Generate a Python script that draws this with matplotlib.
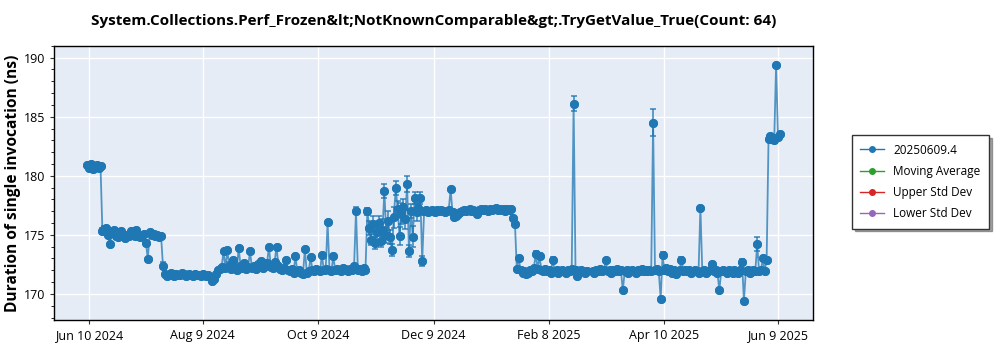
import numpy as np
import pandas as pd
import matplotlib
matplotlib.use("Agg")
import matplotlib.pyplot as plt
from matplotlib.ticker import AutoMinorLocator
from matplotlib.lines import Line2D

plt.rcParams['font.family'] = ['Open Sans', 'DejaVu Sans']

title = "System.Collections.Perf_Frozen&lt;NotKnownComparable&gt;.TryGetValue_True(Count: 64)"
ylabel = "Duration of single invocation (ns)"
series_name = "20250609.4"
legend_names = ["20250609.4", "Moving Average", "Upper Std Dev", "Lower Std Dev"]
legend_colors = ["#1f77b4", "#2ca02c", "#d62728", "#9467bd"]

# one value per day, starting 2024-06-09 (nan = no run that day)
start_date = "2024-06-09"

seg_a = [180.9, 180.7, 181.0, 180.6, 180.8, 180.9, 180.7, 180.8]
seg_b = [175.3, 175.5, 175.6, 175.0, 174.2, 175.2, 175.4, 174.9, 174.8, 175.1,
         175.3, 174.9, 174.7, 175.0, 174.9, 175.3, 175.1, 174.9, 175.4, 175.0,
         174.8, 175.0, 175.1, 174.3, 172.95, 175.2, 175.0, 175.1, 174.9, 175.0,
         174.8, 174.9]
seg_c = [172.4, 171.7, 171.5, 171.6, 171.8, 171.6, 171.5, 171.7, 171.6, 171.6,
         171.8, 171.7, 171.5, 171.6, 171.7, 171.6, 171.5, 171.7, 171.6, 171.6,
         171.5, 171.7, 171.6, 171.5, 171.6, 171.4, 171.1, 171.3, 171.7, 172.0]
seg_d = [172.1, 172.3, 173.6, 172.2, 173.7, 172.4, 172.1, 172.9, 172.3, 172.0,
         173.9, 172.4, 172.2, 172.6, 172.1, 172.3, 173.6, 172.2, 172.4, 172.1,
         172.5, 172.3, 172.8, 172.2, 172.4, 172.6, 174.0, 172.3, 172.2, 172.7,
         174.0, 172.4, 172.1, 172.0, 172.2, 172.9, 172.0, 171.9, 172.1, 171.8,
         173.2, 171.9, 172.0, 171.8, 171.7, 173.8, 171.8, 171.9, 173.1, 172.0,
         171.9, 172.1, 172.0, 171.9, 173.3, 172.0, 172.1, 176.1, 172.0, 171.9,
         173.2, 172.0, 172.1, 172.0, 171.9, 172.2, 172.1, 172.0, 171.9, 172.1,
         172.0, 172.4, 177.05, 172.0, 172.1, 171.9, 172.2, 172.0]
seg_e = [177.0, 175.6, 174.6, 175.9, 174.3, 175.2, 176.0, 174.5, 175.4, 178.7,
         175.0, 176.2, 174.8, 173.7, 176.5, 179.0, 177.2, 174.9, 176.8, 177.4,
         176.3, 179.3, 173.6, 177.0, 174.85, 178.1, 176.9, 177.3, 178.15, 172.8,
         177.0]
seg_e_err = [0.3, 0.6, 0.5, 0.7, 0.5, 0.8, 0.6, 0.5, 0.9, 0.6,
             0.7, 0.8, 0.6, 0.5, 0.9, 0.6, 0.7, 0.8, 0.9, 0.6,
             0.8, 0.7, 0.5, 0.6, 0.9, 0.5, 0.7, 0.6, 0.5, 0.4,
             0.3]
seg_f = [177.1, 176.9, 177.0, 177.1, 177.0, 176.9, 177.1, 177.0, 177.1, 177.0,
         176.9, 177.0, 177.1, 178.85, 176.9, 176.5, 176.6, 176.8, 176.9, 177.0,
         177.1, 177.0, 177.1, 177.2, 177.0, 177.1, 177.0, 176.8, 177.1, 177.2,
         177.1, 177.2, 177.1, 177.0, 177.2, 177.1, 177.2, 177.3, 177.1, 177.2,
         177.1, 177.2, 177.0, 177.2, 177.1, 177.2, 176.4, 175.9]
seg_g = [172.1, 173.0, 172.0, 171.8, 171.9, 171.7, 171.8, 172.0, 171.9, 172.2,
         173.4, 172.1, 173.2, 172.0, 171.9, 172.1, 171.9, 172.0, 171.8, 172.9,
         171.9, 172.0, 171.8, 171.9, 172.0, 171.9, 171.8, 172.0, 171.9, 172.1,
         186.1, 172.0, 171.5, 171.9, 172.0, 171.9, 171.8, 171.9, np.nan, np.nan,
         171.9, 171.8, 172.0, 171.9, 172.1, 171.9, 172.0, 172.9, 171.9, 172.0,
         171.8, 172.0, 171.9, 172.1, 171.9, 172.0, 170.3, 171.9, 172.0, 171.8,
         171.9, 172.0, 171.9, 171.8, 172.0, 171.9, 172.1, 171.9, 172.0, 171.9,
         172.0, 171.9, 184.5, 172.0, 172.1, 171.9, 169.6, 173.3, 172.0, 172.2,
         171.9, 172.1, 171.8, 172.0, 171.7, 171.9, 172.0, 172.9, 171.9, 172.0,
         171.9, 172.0, 171.8, 171.9, 172.0, 171.9, 171.8, 177.3, 171.9, 172.0,
         171.8, 171.9, 172.0, 172.5, 171.9, 172.0, 171.8, 170.3, 171.9, 172.0,
         171.9, 171.8, 172.0, 171.9, 171.8, 172.0, 171.9, 171.8, 172.0, 172.7,
         169.4, 171.9, 172.0, 171.8, 171.9, 172.0, 171.9, 174.2, 171.9, 172.0,
         173.0, 171.9, 172.9]
seg_h = [183.1, 183.4, 183.2, 183.0, 189.4, 183.3, 183.5]

# error bars that stand out (index into the full daily list)
big_err = {1: 0.2, 8: 0.25, 9: 0.25, 40: 0.3, 73: 0.25, 75: 0.3, 81: 0.2, 87: 0.25,
           97: 0.2, 101: 0.2, 111: 0.25, 116: 0.2, 119: 0.2, 125: 0.3, 128: 0.2,
           131: 0.25, 142: 0.3, 228: 0.25, 237: 0.2, 239: 0.25, 246: 0.2,
           257: 0.65, 299: 1.15, 304: 0.25, 314: 0.2, 330: 0.2, 346: 0.25,
           354: 0.6, 357: 0.2}

values = np.array(seg_a + seg_b + seg_c + seg_d + seg_e + seg_f + seg_g + seg_h)
dates = pd.date_range(start_date, periods=len(values), freq="D")
errs = np.full(len(values), 0.1)
off = len(seg_a) + len(seg_b) + len(seg_c) + len(seg_d)
errs[off:off + len(seg_e)] = seg_e_err
for k, v in big_err.items():
    errs[k] = v

ok = ~np.isnan(values)
dates, values, errs = dates[ok], values[ok], errs[ok]

fig = plt.figure(figsize=(10, 3.5), dpi=100)
ax = fig.add_axes([0.054, 0.086, 0.759, 0.783])
ax.set_facecolor("#e5ecf6")
ax.grid(True, color="white", linewidth=1.0)
ax.set_axisbelow(True)

blue = "#1f77b4"
ax.errorbar(dates, values, yerr=errs, color=blue, ecolor=blue, elinewidth=1.3,
            capsize=2.5, capthick=1.3, alpha=0.75, linewidth=1.3,
            marker="o", markersize=5.5, label=series_name)
ax.plot(dates, values, "o", color=blue, markersize=5.5)

ax.set_ylim(167.8, 191.0)
ax.set_xlim(pd.Timestamp("2024-05-22 10:00"), pd.Timestamp("2025-06-27 12:00"))
ax.set_yticks([170, 175, 180, 185, 190])
ax.yaxis.set_minor_locator(AutoMinorLocator(5))
ticks = pd.to_datetime(["2024-06-10", "2024-08-09", "2024-10-09", "2024-12-09",
                        "2025-02-08", "2025-04-10", "2025-06-09"])
ax.set_xticks(ticks)
ax.set_xticklabels([t.strftime("%b ") + str(t.day) + t.strftime(" %Y") for t in ticks])
ax.tick_params(axis="both", labelsize=9, length=3, color="#333333")
ax.tick_params(axis="y", which="minor", length=2)
for s in ax.spines.values():
    s.set_color("black")
    s.set_linewidth(1.0)

ax.set_ylabel(ylabel, fontsize=11.2, fontweight="bold", labelpad=2)
ax.set_title(title, fontsize=11, fontweight="bold", pad=15)

handles = [Line2D([0], [0], color=c, marker="o", markersize=4, linewidth=1)
           for c in legend_colors]
leg = fig.legend(handles, legend_names, loc="center left", bbox_to_anchor=(0.846, 0.48),
                 fontsize=8.5, frameon=True, fancybox=False, shadow=True,
                 edgecolor="#333333", handlelength=2.0, borderpad=0.7, labelspacing=0.7)
leg.get_frame().set_linewidth(1.0)

fig.savefig("out.png", dpi=100)
